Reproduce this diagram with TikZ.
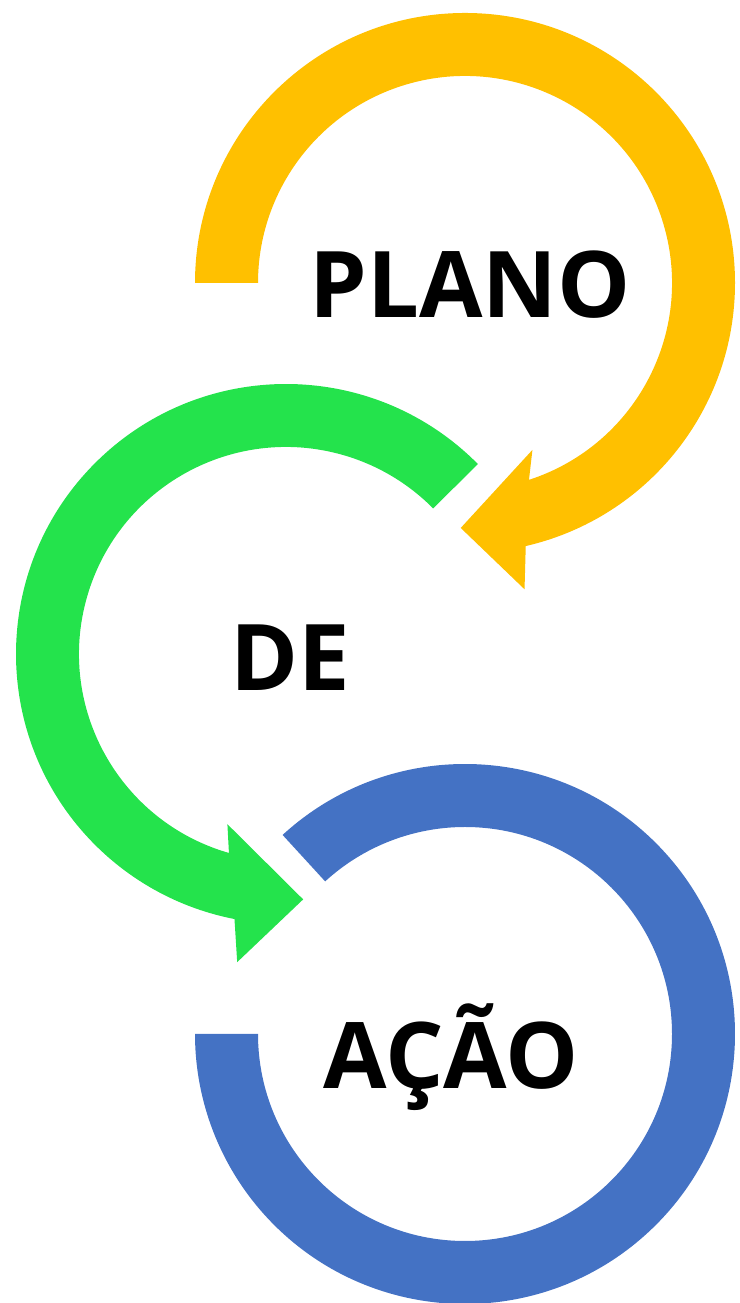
\documentclass[tikz,border=0pt]{standalone}
\usepackage{fontspec}
\setmainfont{Open Sans}
\usepackage{tikz}
\definecolor{planoyellow}{HTML}{FFC000}
\definecolor{degreen}{HTML}{24E34C}
\definecolor{acaoblue}{HTML}{4472C4}

\begin{document}
\begin{tikzpicture}[
  x = 1pt, y = 1pt,
  every node/.style = {font = \fontsize{92}{100}\selectfont\bfseries, anchor = base, inner sep = 0pt},
  ring/.style = {fill = #1}
  ]
  \useasboundingbox (0,0) rectangle (739,1303);
  \coordinate (plano c) at (465,1020);
  \coordinate (de c) at (286,649);
  \coordinate (acao c) at (465,269);
  % rings
  \fill[ring = planoyellow, shift = {(plano c)}]
    (180:270) arc[start angle = 180, end angle = -77, radius = 270]
    -- (-79:312) -- (-91:245) -- (-68:180) -- (-72:207)
    arc[start angle = -72, end angle = 180, radius = 207] -- cycle;
  \fill[ring = degreen, shift = {(de c)}]
    (44.7:270) arc[start angle = 44.7, end angle = 259, radius = 270]
    -- (261:312) -- (274:246) -- (251:180) -- (254:207)
    arc[start angle = 254, end angle = 44.7, radius = 207] -- cycle;
  \fill[ring = acaoblue, shift = {(acao c)}]
    (132.5:270) arc[start angle = 132.5, end angle = -180, radius = 270]
    -- (-180:207) arc[start angle = -180, end angle = 132.5, radius = 207] -- cycle;
  % labels
  \node (plano) at (470,985) {PLANO};
  \node (de) at (290,612) {DE};
  \node (acao) at (451,214) {AÇÃO};
\end{tikzpicture}
\end{document}
